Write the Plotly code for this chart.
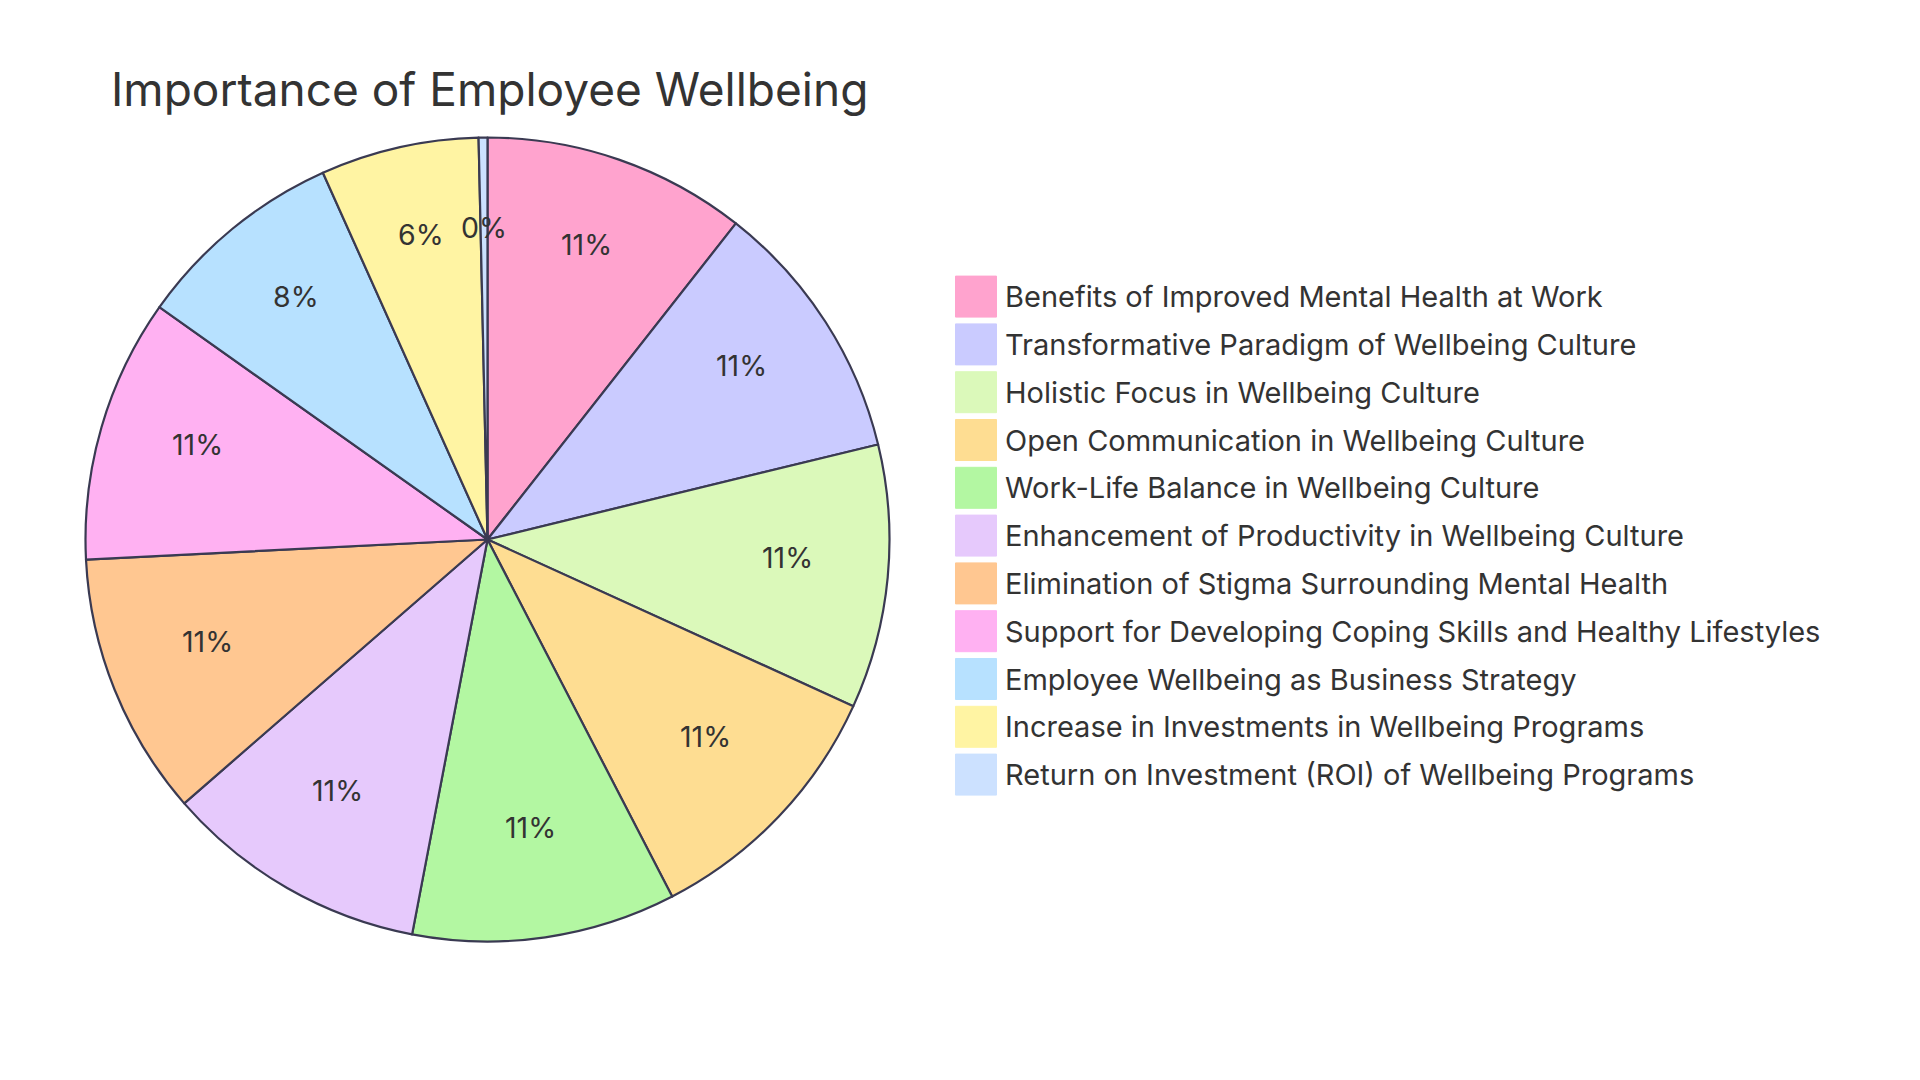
import math
import plotly.graph_objects as go

# ---- data ----
title_text = "Importance of Employee Wellbeing"
labels = [
    "Benefits of Improved Mental Health at Work",
    "Transformative Paradigm of Wellbeing Culture",
    "Holistic Focus in Wellbeing Culture",
    "Open Communication in Wellbeing Culture",
    "Work-Life Balance in Wellbeing Culture",
    "Enhancement of Productivity in Wellbeing Culture",
    "Elimination of Stigma Surrounding Mental Health",
    "Support for Developing Coping Skills and Healthy Lifestyles",
    "Employee Wellbeing as Business Strategy",
    "Increase in Investments in Wellbeing Programs",
    "Return on Investment (ROI) of Wellbeing Programs",
]
values = [15, 15, 15, 15, 15, 15, 15, 15, 12, 9, 0.5]
colors = [
    "#FFA3CE", "#CACBFF", "#DBF9BA", "#FEDD92", "#B3F7A2", "#E6C9FC",
    "#FFC791", "#FFB1F2", "#B7E1FF", "#FFF4A3", "#CCE1FF",
]

# ---- layout constants ----
W, H = 1920, 1080
cx, cy, R = 487.5, 539.5, 402
LABEL_R = 0.75
LABEL_LIFT = 10.5
STROKE = "#3a3a52"
FONT = "Inter"
TXT = "#333333"

fig = go.Figure(
    go.Pie(
        labels=labels,
        values=values,
        sort=False,
        direction="clockwise",
        rotation=0,
        marker=dict(colors=colors, line=dict(color=STROKE, width=2.2)),
        textinfo="none",
        domain=dict(x=[(cx - R) / W, (cx + R) / W], y=[1 - (cy + R) / H, 1 - (cy - R) / H]),
        showlegend=False,
        hoverinfo="label+percent",
    )
)

# percentage labels placed on a fixed-radius arc, derived from the values
total = sum(values)
cum = 0.0
for v in values:
    mid = (cum + v / 2) / total * 2 * math.pi
    cum += v
    px = cx + LABEL_R * R * math.sin(mid)
    py = cy - LABEL_R * R * math.cos(mid) - LABEL_LIFT
    pct = int(v / total * 100 + 0.5)
    fig.add_annotation(
        xref="paper", yref="paper", x=px / W, y=1 - py / H,
        text=f"{pct}%", showarrow=False, xanchor="center", yanchor="middle",
        font=dict(family=FONT, size=28.5, color=TXT),
    )

# manual legend (large swatches)
row0, step, half = 296.6, 47.8, 20.5
for i, (lab, col) in enumerate(zip(labels, colors)):
    yc = row0 + step * i
    fig.add_shape(
        type="rect", xref="paper", yref="paper",
        x0=955.5 / W, x1=996.5 / W,
        y0=1 - (yc + half) / H, y1=1 - (yc - half) / H,
        fillcolor=col, line=dict(color=col, width=1),
    )
    fig.add_annotation(
        xref="paper", yref="paper", x=1003 / W, y=1 - yc / H,
        text=lab, showarrow=False, xanchor="left", yanchor="middle",
        font=dict(family=FONT, size=29, color=TXT),
    )

fig.update_layout(
    width=W, height=H,
    margin=dict(l=0, r=0, t=0, b=0),
    paper_bgcolor="white", plot_bgcolor="white",
    title=dict(
        text=title_text, xref="paper", yref="container",
        x=111 / W, xanchor="left", y=1 - 90 / H, yanchor="middle",
        font=dict(family=FONT, size=46, color=TXT),
    ),
)

fig.write_html("out.html")
